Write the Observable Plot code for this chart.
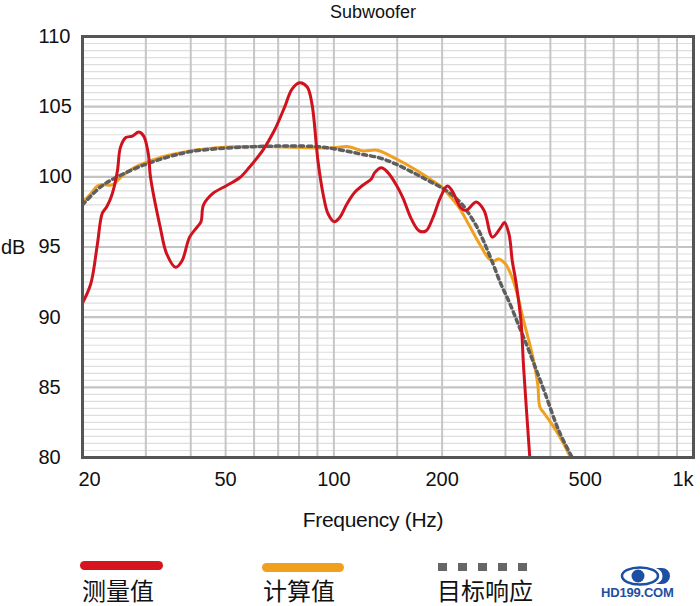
<!DOCTYPE html>
<html>
<head>
<meta charset="utf-8">
<script src="https://cdn.jsdelivr.net/npm/d3@7"></script>
<script src="https://cdn.jsdelivr.net/npm/@observablehq/plot@0.6"></script>
<style>
  body { margin: 0; background: #fff; }
  #wrap { position: relative; width: 700px; height: 606px; overflow: hidden; font-family: "Liberation Sans", Arial, sans-serif; color: #111; }
  .abs { position: absolute; white-space: nowrap; }
  .cjk { font-family: "Noto Sans CJK SC", sans-serif; font-size: 24px; line-height: 26px; top: 577px; color: #111; }
</style>
</head>
<body>
<div id="wrap">
  <div class="abs" style="left:273px;width:200px;text-align:center;top:1px;font-size:18px;line-height:22px;">Subwoofer</div>
  <div class="abs" style="left:1px;top:236px;font-size:20px;line-height:22px;">dB</div>
  <div class="abs" style="left:223px;width:300px;text-align:center;top:508px;font-size:21px;line-height:24px;letter-spacing:-0.3px;">Frequency (Hz)</div>
  <div class="abs" style="left:80px;top:561px;width:83px;height:9px;border-radius:5px;background:#d7141e;"></div>
  <div class="abs" style="left:262px;top:563px;width:82px;height:9px;border-radius:5px;background:#f0a01e;"></div>
  <div class="abs" style="left:438px;top:563px;width:90px;height:8px;background:repeating-linear-gradient(to right,#666 0 9px,transparent 9px 20px);"></div>
  <div class="abs cjk" style="left:82px;">测量值</div>
  <div class="abs cjk" style="left:263px;">计算值</div>
  <div class="abs cjk" style="left:437px;">目标响应</div>
  <svg class="abs" style="left:620px;top:566px;" width="52" height="20" viewBox="0 0 52 20">
    <ellipse cx="20" cy="10" rx="18" ry="8.5" fill="none" stroke="#1d4fa3" stroke-width="2.5"/>
    <circle cx="18" cy="10" r="6.5" fill="#1d4fa3"/>
    <path d="M36 2 L42 2 A8 8 0 0 1 42 18 L36 18 A12 9 0 0 0 36 2 Z" fill="#1d4fa3"/>
  </svg>
  <div class="abs" style="left:601px;top:585px;font-size:13px;line-height:15px;font-weight:bold;color:#1d4fa3;letter-spacing:-0.2px;">HD199.COM</div>
  <div id="chart" class="abs" style="left:0;top:0;"></div>
</div>
<script>
const measured = [
  [20, 91.0], [21.1, 92.4], [22.0, 95.2], [22.7, 97.4], [23.4, 97.9], [24.2, 98.8],
  [25.0, 100.4], [25.5, 102.1], [26.4, 102.8], [27.5, 102.9], [28.7, 103.2], [29.6, 102.9],
  [30.5, 101.6], [30.9, 100.0], [32.9, 96.4], [34.3, 94.5], [36.3, 93.55], [37.8, 94.0],
  [39.7, 95.7], [41.6, 96.4], [42.7, 96.8], [43.4, 98.0], [46.0, 98.8], [50.5, 99.4],
  [54.8, 99.95], [58.3, 100.7], [63.5, 101.9], [68.3, 103.3], [72.9, 104.95], [76.5, 106.25],
  [80.3, 106.7], [84.3, 106.4], [86.9, 105.2], [89.5, 102.1], [90.3, 101.15], [93.3, 98.8],
  [96.4, 97.35], [100.3, 96.8], [103.8, 97.1], [108.6, 98.05], [114.3, 98.9], [120.3, 99.4],
  [127.1, 99.85], [129.9, 100.3], [135.6, 100.65], [141.4, 100.3], [149.3, 99.4], [155.6, 98.5],
  [164.2, 97.0], [172.6, 96.15], [180.4, 96.15], [188.6, 97.1], [197.6, 98.5], [206.7, 99.35],
  [213.3, 99.0], [225.3, 97.8], [232.8, 97.6], [248.9, 98.2], [261.6, 97.6], [276, 95.7],
  [291.2, 96.4], [298.1, 96.75], [307, 95.9], [313.4, 94.0], [320.4, 92.6], [331.4, 89.7],
  [337, 86.4], [350.6, 80.0]
];
const calculated = [
  [20, 98.2], [21.1, 98.8], [22.0, 99.35], [22.9, 99.45], [23.9, 99.4], [24.5, 99.5],
  [25.5, 99.95], [27.8, 100.65], [29.9, 101.0], [34.3, 101.5], [42.5, 101.95], [52.6, 102.15],
  [70, 102.15], [97, 102.05], [110, 102.15], [120.3, 101.85], [131.8, 101.9], [143.5, 101.5],
  [158.9, 100.9], [176.4, 100.2], [188.6, 99.7], [200, 99.25], [205, 98.95], [223, 97.8],
  [236.6, 96.65], [254.4, 95.2], [270.2, 94.15], [278.7, 94.0], [286.9, 94.15], [299.7, 93.8],
  [313.4, 92.8], [323.5, 91.65], [337, 89.75], [355.7, 87.4], [369, 85.2], [374, 83.6],
  [385.7, 83.1], [409.2, 82.15], [431, 81.2], [455, 80.0]
];
const target = [
  [20, 98.0], [22.5, 99.3], [25, 100.0], [30, 100.9], [35, 101.45], [40, 101.8], [50, 102.05],
  [60, 102.15], [75, 102.2], [90, 102.15], [100, 102.0], [110, 101.8], [120, 101.6], [134, 101.35],
  [149, 100.9], [169, 100.2], [184, 99.7], [206, 99.0], [227, 98.05], [249, 96.5], [262, 95.3],
  [276, 93.9], [291, 92.4], [307, 91.1], [328, 89.3], [350, 87.5], [385, 84.7], [424, 81.8], [460, 80.0]
];
const yTicks = [80, 85, 90, 95, 100, 105, 110];
const yMinor = d3.range(80.5, 110, 0.5).filter(v => v % 5 !== 0);
const xGrid = [30, 40, 50, 60, 70, 80, 90, 100, 150, 200, 300, 400, 500, 600, 700, 800, 900];
const xTicksMid = [50, 100, 200, 500];
const xTickFirst = [20];
const xTickLast = [1000];
const xLabels = {20: "20", 50: "50", 100: "100", 200: "200", 500: "500", 1000: "1k"};

const toRows = arr => arr.map(([f, db]) => ({f, db}));
const tickText = (data, anchor, dx) => Plot.text(data, {
  x: d => d, frameAnchor: "bottom", lineAnchor: "top", dy: 14, dx,
  textAnchor: anchor, text: d => xLabels[d], fontSize: 20, fill: "#111"
});

const chart = Plot.plot({
  width: 700,
  height: 540,
  marginTop: 36,
  marginBottom: 83,
  marginLeft: 82,
  marginRight: 7,
  style: {fontFamily: "'Liberation Sans', Arial, sans-serif", fontSize: "20px", color: "#111", background: "transparent"},
  x: {type: "log", domain: [20, 1000], axis: null},
  y: {domain: [80, 110]},
  marks: [
    Plot.ruleY(yMinor, {stroke: "#dedede", strokeWidth: 1.2}),
    Plot.ruleY(yTicks, {stroke: "#c4c4c4", strokeWidth: 2.2}),
    Plot.ruleX(xGrid, {stroke: "#c6c6c6", strokeWidth: 2}),
    Plot.line(toRows(calculated), {x: "f", y: "db", stroke: "#f0a01e", strokeWidth: 3, curve: "catmull-rom", clip: true}),
    Plot.line(toRows(target), {x: "f", y: "db", stroke: "#5e5e5e", strokeWidth: 3.5, strokeDasharray: "4,4", curve: "catmull-rom", clip: true}),
    Plot.line(toRows(measured), {x: "f", y: "db", stroke: "#d0121e", strokeWidth: 3, curve: "catmull-rom", clip: true}),
    Plot.frame({stroke: "#555", strokeWidth: 3}),
    Plot.axisY(yTicks, {tickSize: 0, tickPadding: 0, textAnchor: "start", dx: -44, fontSize: 20, label: null}),
    tickText(xTicksMid, "middle", 0),
    tickText(xTickFirst, "start", -4),
    tickText(xTickLast, "end", 0)
  ]
});
document.getElementById("chart").appendChild(chart);
</script>
</body>
</html>
